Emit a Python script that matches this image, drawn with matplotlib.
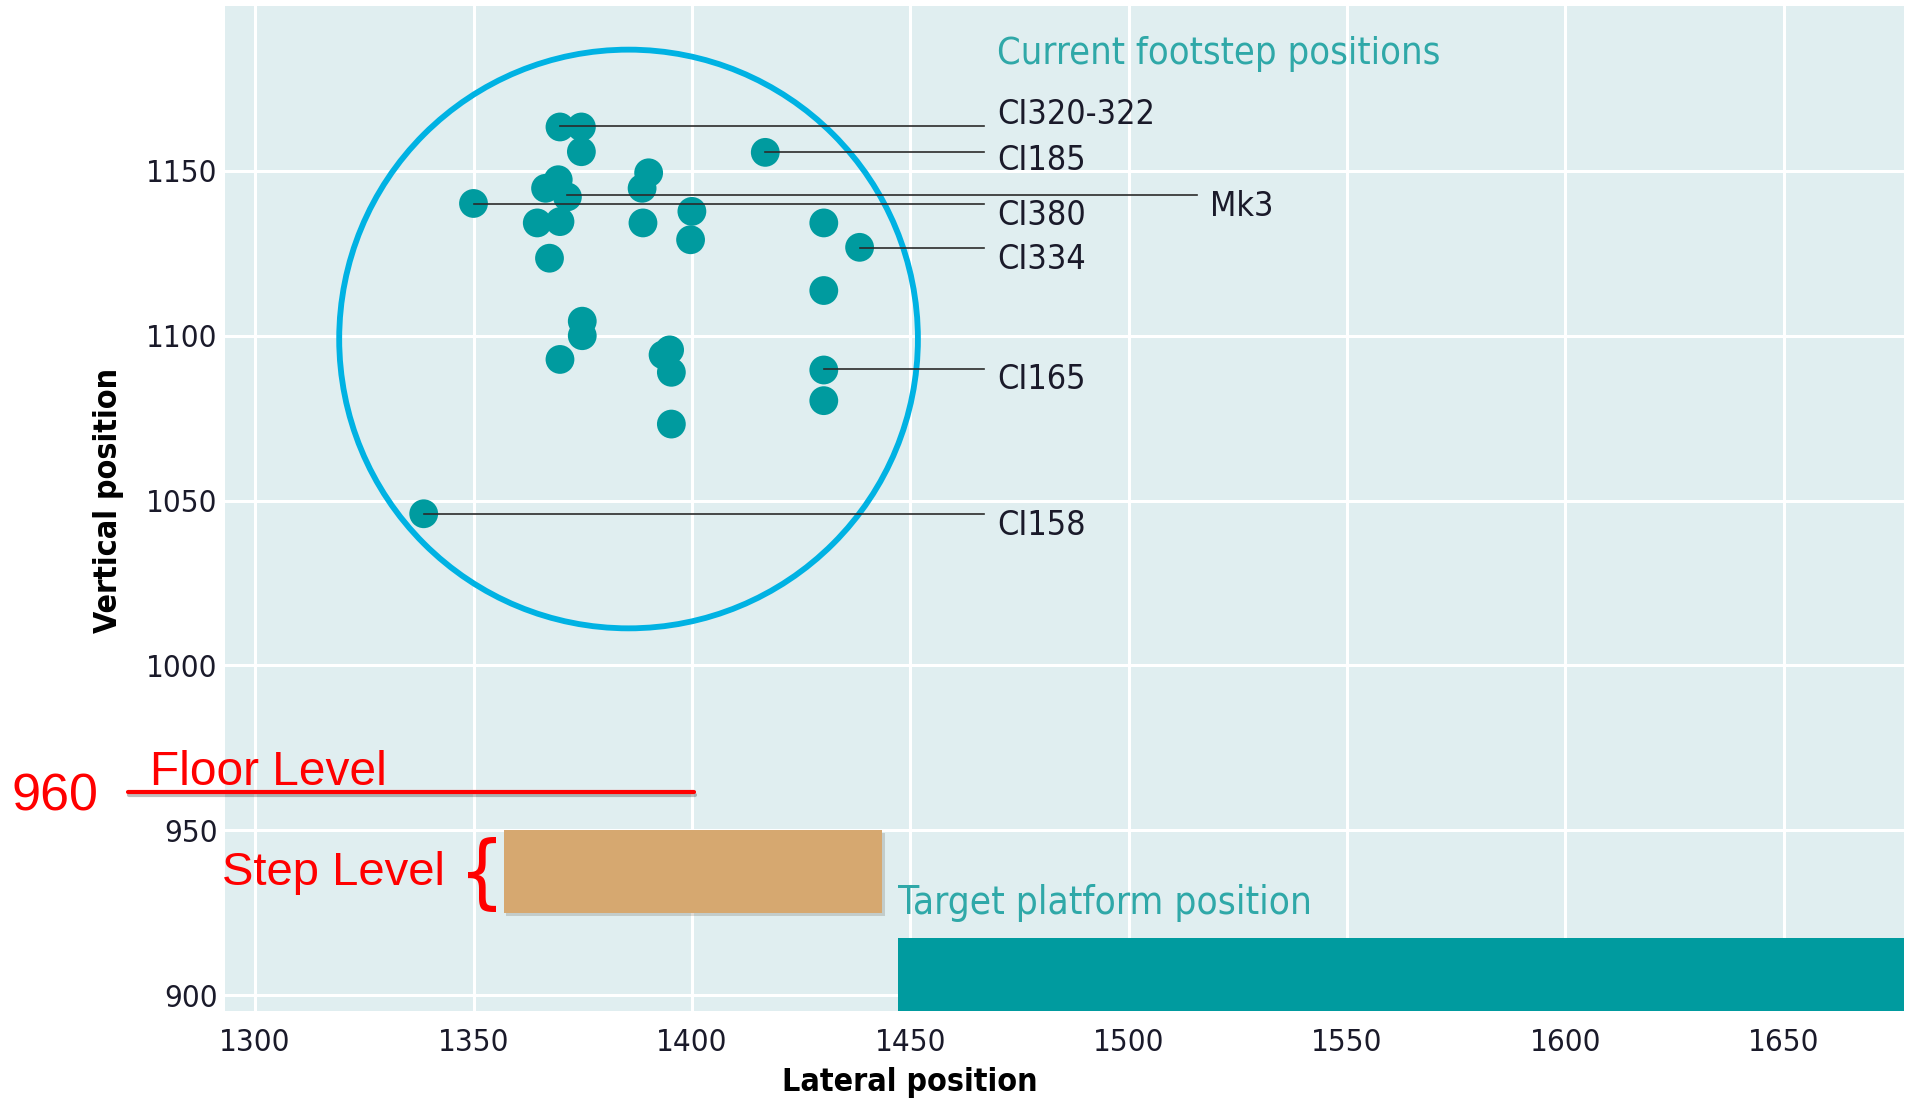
import numpy as np
import matplotlib
matplotlib.use('Agg')
import matplotlib.pyplot as plt
from matplotlib.patches import Ellipse, Rectangle
import matplotlib.patheffects as pe

# Footstep positions (lateral, vertical)
lateral = [1369.8, 1374.7, 1374.7, 1416.8, 1390.1, 1388.6, 1369.4, 1366.5, 1371.5, 1350.0,
           1364.6, 1369.8, 1388.8, 1400.0, 1399.7, 1430.2, 1438.4, 1367.4, 1430.2, 1374.9,
           1374.9, 1369.8, 1393.4, 1394.9, 1395.3, 1430.2, 1430.2, 1395.3, 1338.6]
vertical = [1163.3, 1163.3, 1155.8, 1155.6, 1149.4, 1144.7, 1147.3, 1144.7, 1142.1, 1140.1,
            1134.2, 1134.6, 1134.2, 1137.7, 1129.1, 1134.2, 1126.8, 1123.5, 1113.7, 1104.4,
            1100.0, 1092.8, 1094.2, 1095.7, 1088.9, 1089.6, 1080.3, 1073.2, 1046.0]

# labelled footsteps: name, start x of leader, leader y, label y
labels = ['CI320-322', 'CI185', 'Mk3', 'CI380', 'CI334', 'CI165', 'CI158']
label_from_x = [1369.8, 1416.8, 1371.5, 1350.0, 1438.4, 1430.2, 1338.6]
label_line_y = [1163.6, 1155.6, 1142.7, 1139.8, 1126.7, 1089.9, 1045.8]
label_text_y = [1167.1, 1153.2, 1139.2, 1136.6, 1123.2, 1086.8, 1042.3]
label_end_x = [1466.9, 1466.9, 1515.7, 1466.9, 1466.9, 1466.9, 1466.9]

circle_center = (1385.5, 1099.0)
circle_size = (132.5, 175.5)

floor_level = 961.7
floor_x = (1270.8, 1400.5)
step_x = (1356.9, 1443.5)
step_y = (925.0, 950.0)
platform_x = (1447.3, 1677.5)
platform_top = 917.2

xticks = [1300, 1350, 1400, 1450, 1500, 1550, 1600, 1650]
yticks = [900, 950, 1000, 1050, 1100, 1150]

bg = '#E0EEF0'
teal = '#009B9F'
teal_text = '#2FA8A8'
red = '#FF0000'
narrow = 'DejaVu Sans'
cond = 'condensed'

fig = plt.figure(figsize=(19.11, 11.03), dpi=100)
ax = fig.add_axes([0.1175, 0.0834, 0.9963 - 0.1175, 0.9946 - 0.0834])
ax.set_facecolor(bg)
ax.set_xlim(1293, 1677.5)
ax.set_ylim(895.2, 1200)
for s in ax.spines.values():
    s.set_visible(False)
ax.set_xticks(xticks)
ax.set_yticks(yticks)
ax.tick_params(length=0, labelsize=22.5, colors='#1a1a2a')
ax.tick_params(axis='x', pad=12)
ax.tick_params(axis='y', pad=5)
for t in ax.get_xticklabels() + ax.get_yticklabels():
    t.set_fontfamily(narrow)
    t.set_fontstretch(cond)
ax.grid(True, color='white', linewidth=2.2)
ax.set_axisbelow(True)

ax.set_xlabel('Lateral position', fontsize=23, fontweight='bold', family=narrow, fontstretch=cond)
ax.set_ylabel('Vertical position', fontsize=23, fontweight='bold', family=narrow, fontstretch=cond)
ax.xaxis.set_label_coords(0.408, -0.0707)
ax.xaxis.label.set_va('center')
ax.yaxis.set_label_coords(-0.069, 0.508)
ax.yaxis.label.set_va('center')

# circle
ax.add_patch(Ellipse(circle_center, circle_size[0], circle_size[1], fill=False,
                     edgecolor='#00B2E3', linewidth=4.2, zorder=3))

# footsteps
ax.scatter(lateral, vertical, s=430, color=teal, edgecolors='none', zorder=4)

# leaders and labels
for name, x0, x1, ly, ty in zip(labels, label_from_x, label_end_x, label_line_y, label_text_y):
    ax.plot([x0, x1], [ly, ly], color='#2b2b2b', linewidth=1.2, zorder=5)
    ax.text(x1 + 2.9, ty, name, fontsize=24.5, family=narrow, fontstretch=cond, color='#1a1a2a',
            va='center', ha='left', zorder=6)

ax.text(1469.8, 1185.3, 'Current footstep positions', fontsize=27.3, family=narrow,
        fontstretch=cond, color=teal_text, va='center', ha='left')

# step and platform
step = Rectangle((step_x[0], step_y[0]), step_x[1] - step_x[0], step_y[1] - step_y[0],
                 facecolor='#D6A870', edgecolor='none', zorder=3)
step.set_path_effects([pe.SimplePatchShadow(offset=(2, -2), alpha=0.18), pe.Normal()])
ax.add_patch(step)
ax.add_patch(Rectangle((platform_x[0], 895.2), platform_x[1] - platform_x[0], platform_top - 895.2,
                       facecolor=teal, edgecolor='none', zorder=3))
ax.text(1447.3, 927.9, 'Target platform position', fontsize=27.8, family=narrow,
        fontstretch=cond, color=teal_text, va='center', ha='left')

# red annotations
ax.plot(floor_x, [floor_level, floor_level], color=red, linewidth=3, solid_capstyle='round',
        clip_on=False, zorder=6,
        path_effects=[pe.SimpleLineShadow(offset=(1, -2), alpha=0.25), pe.Normal()])
ax.text(1276, 963.7, 'Floor Level', fontsize=34.5, family='Liberation Sans', color=red,
        va='baseline', ha='left', clip_on=False)
fig.text(11.5 / 1911, 1 - 797 / 1103, '960', fontsize=37.5, family='Liberation Sans',
         color=red, va='center', ha='left')
fig.text(222 / 1911, 1 - 873 / 1103, 'Step Level', fontsize=34, family='Liberation Sans',
         color=red, va='center', ha='left')
fig.text(482 / 1911, 1 - 876 / 1103, '{', fontsize=58, family=narrow, fontstretch=cond,
         color=red, va='center', ha='center')

fig.savefig('out.png', dpi=100)
